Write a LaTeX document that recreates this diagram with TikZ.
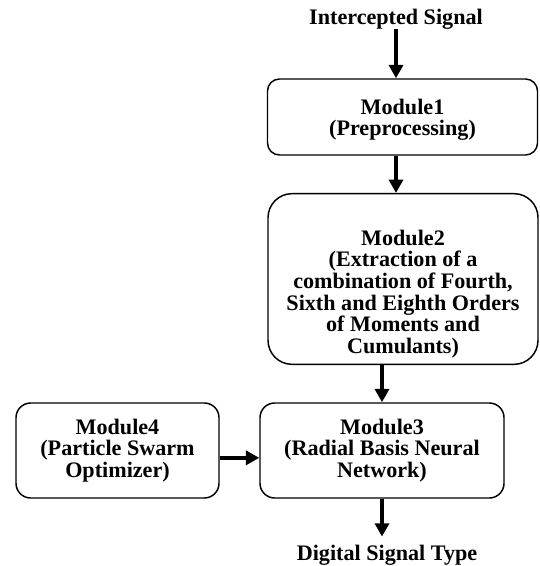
\documentclass[tikz,border=0pt]{standalone}
\usepackage{fontspec}
\setmainfont{Liberation Serif}
\usepackage{tikz}
\usetikzlibrary{arrows.meta}

\tikzset{
  module/.style={draw, line width=1.1pt, align=center, inner sep=0pt,
    font=\fontsize{16.6}{16.2}\selectfont\bfseries},
  label/.style={inner sep=0pt, font=\fontsize{16.6}{16.2}\selectfont\bfseries},
  flow/.style={line width=2.5pt, -{Triangle[length=10pt,width=10.5pt]}}
}

\begin{document}
\begin{tikzpicture}[x=0.75pt,y=0.75pt,yscale=-1,xscale=1]
    \useasboundingbox (0,0) rectangle (539,566);

    % Text Node
    \node [label] (insig) at (396,19) {Intercepted Signal};
    % Text Node
    \node [label] (outsig) at (387,555) {Digital Signal Type};

    %Rounded Rect
    \node [module, minimum width=202.5pt, minimum height=57pt, rounded corners=9pt] (m1) at (402.5,117)
      {\rule{0pt}{15.5pt}Module1\\(Preprocessing)};
    %Rounded Rect
    \node [module, minimum width=202.5pt, minimum height=128pt, rounded corners=18pt] (m2) at (403,279)
      {\rule{0pt}{34pt}Module2\\(Extraction of a\\combination of Fourth,\\Sixth and Eighth Orders\\of Moments and\\Cumulants)};
    %Rounded Rect
    \node [module, minimum width=183pt, minimum height=71.25pt, rounded corners=11pt] (m3) at (382,450.5)
      {Module3\\(Radial Basis Neural\\Network)};
    %Rounded Rect
    \node [module, minimum width=152.25pt, minimum height=71.25pt, rounded corners=11pt] (m4) at (117.5,450.5)
      {Module4\\(Particle Swarm\\Optimizer)};

    %Straight Lines
    \draw [flow] (insig.south) -- (insig.south |- m1.north);
    %Straight Lines
    \draw [flow] (insig.south |- m1.south) -- (insig.south |- m2.north);
    %Straight Lines
    \draw [flow] (m3.north |- m2.south) -- (m3.north);
    %Straight Lines (yshift runs downwards here, as yscale=-1)
    \draw [flow] ([yshift=5.5pt]m4.east) -- ([yshift=5.5pt]m3.west);
    %Straight Lines
    \draw [flow] (m3.south) -- ([yshift=-6pt]m3.south |- outsig.north);

\end{tikzpicture}
\end{document}
